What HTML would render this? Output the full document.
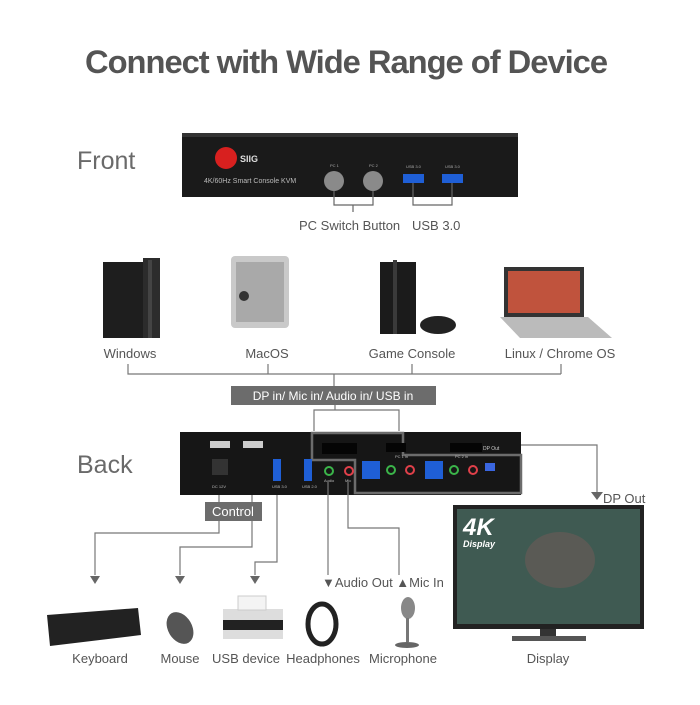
<!DOCTYPE html>
<html><head><meta charset="utf-8"><style>
body{margin:0;background:#fff;}
svg text{font-family:"Liberation Sans",sans-serif;}
</style></head><body>
<svg width="700" height="700" viewBox="0 0 700 700" xmlns="http://www.w3.org/2000/svg">
<rect width="700" height="700" fill="#fff"/>
<text x="346" y="73" text-anchor="middle" font-size="32" font-weight="bold" fill="#545454" letter-spacing="-1" textLength="522" lengthAdjust="spacingAndGlyphs">Connect with Wide Range of Device</text>

<!-- Front -->
<text x="77" y="169" font-size="25" fill="#6a6a6a">Front</text>
<rect x="182" y="133" width="336" height="64" fill="#1a1a1a"/>
<rect x="182" y="133" width="336" height="4" fill="#333"/>
<circle cx="226" cy="158" r="11" fill="#d8201f"/>
<text x="240" y="162" font-size="9" fill="#ddd" font-weight="bold">SIIG</text>
<text x="204" y="183" font-size="7" fill="#bbb">4K/60Hz Smart Console KVM</text>
<text x="330" y="167" font-size="4" fill="#aaa">PC 1</text>
<text x="369" y="167" font-size="4" fill="#aaa">PC 2</text>
<circle cx="334" cy="181" r="10" fill="#8a8a8a"/>
<circle cx="373" cy="181" r="10" fill="#8a8a8a"/>
<text x="406" y="168" font-size="4" fill="#aaa">USB 3.0</text>
<text x="445" y="168" font-size="4" fill="#aaa">USB 3.0</text>
<rect x="403" y="174" width="21" height="9" fill="#1f5fd6"/>
<rect x="442" y="174" width="21" height="9" fill="#1f5fd6"/>
<g stroke="#666" fill="none" stroke-width="1.2">
<path d="M334 191 V205 H373 V191 M353 205 V212"/>
<path d="M413 183 V205 H452 V183"/>
</g>
<text x="299" y="230" font-size="13" fill="#555">PC Switch Button</text>
<text x="412" y="230" font-size="13" fill="#555">USB 3.0</text>

<!-- devices -->
<rect x="103" y="262" width="40" height="76" fill="#1e1e1e"/>
<rect x="143" y="258" width="17" height="80" fill="#2c2c2c"/>
<rect x="148" y="260" width="4" height="78" fill="#444"/>
<rect x="231" y="256" width="58" height="72" rx="4" fill="#c9c9c9"/>
<rect x="236" y="262" width="48" height="60" fill="#a9a9a9"/>
<circle cx="244" cy="296" r="5" fill="#333"/>
<rect x="380" y="262" width="36" height="72" fill="#1b1b1b"/>
<rect x="393" y="260" width="4" height="74" fill="#3a3a3a"/>
<ellipse cx="438" cy="325" rx="18" ry="9" fill="#222"/>
<rect x="504" y="267" width="80" height="50" fill="#333"/>
<rect x="508" y="271" width="72" height="42" fill="#c0533d"/>
<polygon points="500,317 588,317 612,338 520,338" fill="#bbb"/>
<g font-size="13" fill="#555" text-anchor="middle">
<text x="130" y="358">Windows</text>
<text x="267" y="358">MacOS</text>
<text x="412" y="358">Game Console</text>
<text x="560" y="358">Linux / Chrome OS</text>
</g>
<g stroke="#777" fill="none" stroke-width="1.2">
<path d="M128 364 V374 H561 M268 364 V374 M412 364 V374 M561 364 V374 M334 374 V386"/>
</g>
<rect x="231" y="386" width="205" height="19" fill="#6c6c6c"/>
<text x="333" y="400" text-anchor="middle" font-size="12" fill="#fff">DP in/ Mic in/ Audio in/ USB in</text>
<path d="M335 405 V410 H314 V431 M335 410 H399 V431" stroke="#777" fill="none" stroke-width="1.2"/>

<!-- Back -->
<text x="77" y="473" font-size="25" fill="#6a6a6a">Back</text>
<rect x="180" y="432" width="341" height="63" fill="#161616"/>
<path d="M312 433 H403 V455 H521 V493 H355 V460 H312 Z" fill="none" stroke="#6c6c6c" stroke-width="2.5"/>
<rect x="210" y="441" width="20" height="7" fill="#ccc"/>
<rect x="243" y="441" width="20" height="7" fill="#ccc"/>
<rect x="212" y="459" width="16" height="16" fill="#333"/>
<rect x="273" y="459" width="8" height="22" fill="#1f5fd6"/>
<rect x="304" y="459" width="8" height="22" fill="#1f5fd6"/>
<rect x="322" y="443" width="35" height="11" fill="#050505"/>
<rect x="386" y="443" width="20" height="9" fill="#050505"/>
<rect x="450" y="443" width="32" height="9" fill="#050505"/>
<text x="483" y="450" font-size="5" fill="#ccc">DP Out</text>
<circle cx="329" cy="471" r="4" fill="none" stroke="#3bb54a" stroke-width="2"/>
<circle cx="349" cy="471" r="4" fill="none" stroke="#e0404a" stroke-width="2"/>
<rect x="362" y="461" width="18" height="18" fill="#1f5fd6"/>
<circle cx="391" cy="470" r="4" fill="none" stroke="#3bb54a" stroke-width="2"/>
<circle cx="410" cy="470" r="4" fill="none" stroke="#e0404a" stroke-width="2"/>
<rect x="425" y="461" width="18" height="18" fill="#1f5fd6"/>
<circle cx="454" cy="470" r="4" fill="none" stroke="#3bb54a" stroke-width="2"/>
<circle cx="473" cy="470" r="4" fill="none" stroke="#e0404a" stroke-width="2"/>
<rect x="485" y="463" width="10" height="8" fill="#3a66e0"/>
<g font-size="4" fill="#bbb">
<text x="212" y="488">DC 12V</text><text x="272" y="488">USB 3.0</text><text x="302" y="488">USB 2.0</text>
<text x="324" y="482">Audio</text><text x="345" y="482">Mic</text><text x="395" y="458">PC 1 in</text><text x="455" y="458">PC 2 in</text>
</g>
<g stroke="#777" fill="none" stroke-width="1.2">
<path d="M521 445 H597 V492"/>
<path d="M219 495 V533 H95 V575"/>
<path d="M252 495 V547 H180 V575"/>
<path d="M277 495 V562 H255 V575"/>
<path d="M328 482 V575"/>
<path d="M348 482 V528 H399 V575"/>
</g>
<rect x="205" y="502" width="57" height="19" fill="#6c6c6c"/>
<text x="233" y="516" text-anchor="middle" font-size="13" fill="#fff">Control</text>
<g fill="#666">
<polygon points="591,492 603,492 597,500"/>
<polygon points="90,576 100,576 95,584"/>
<polygon points="175,576 185,576 180,584"/>
<polygon points="250,576 260,576 255,584"/>
</g>
<text x="603" y="503" font-size="13" fill="#555">DP Out</text>
<text x="322" y="587" font-size="13" fill="#555">▼Audio Out ▲Mic In</text>

<!-- monitor -->
<rect x="453" y="505" width="191" height="124" fill="#222"/>
<rect x="457" y="509" width="183" height="115" fill="#3f5a52"/>
<ellipse cx="560" cy="560" rx="35" ry="28" fill="#5a5a55"/>
<text x="463" y="535" font-size="24" font-weight="bold" font-style="italic" fill="#fff">4K</text>
<text x="463" y="547" font-size="9" font-weight="bold" font-style="italic" fill="#fff">Display</text>
<rect x="540" y="629" width="16" height="8" fill="#333"/>
<rect x="512" y="636" width="74" height="5" fill="#555"/>

<!-- bottom devices -->
<polygon points="47,615 138,608 141,635 50,646" fill="#222"/>
<ellipse cx="180" cy="628" rx="12" ry="17" fill="#555" transform="rotate(-30 180 628)"/>
<rect x="223" y="609" width="60" height="30" fill="#ddd"/>
<rect x="223" y="620" width="60" height="10" fill="#222"/>
<rect x="238" y="596" width="28" height="14" fill="#f4f4f4" stroke="#ccc"/>
<ellipse cx="322" cy="624" rx="14" ry="20" fill="none" stroke="#222" stroke-width="5"/>
<ellipse cx="408" cy="608" rx="7" ry="11" fill="#888"/>
<rect x="406" y="618" width="3" height="24" fill="#777"/>
<ellipse cx="407" cy="645" rx="12" ry="3" fill="#666"/>
<g font-size="13" fill="#555" text-anchor="middle">
<text x="100" y="663">Keyboard</text>
<text x="180" y="663">Mouse</text>
<text x="246" y="663">USB device</text>
<text x="323" y="663">Headphones</text>
<text x="403" y="663">Microphone</text>
<text x="548" y="663">Display</text>
</g>
</svg>
</body></html>
